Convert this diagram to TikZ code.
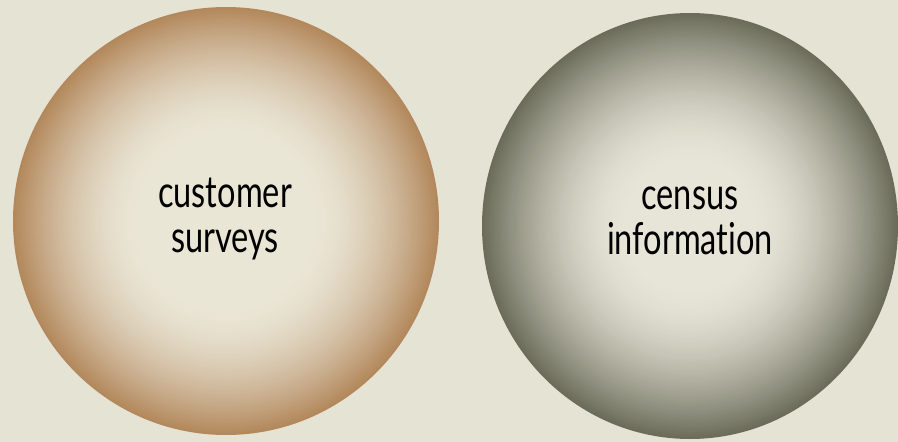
\documentclass[tikz,border=0pt]{standalone}
\usepackage{fontspec}
\setmainfont[FakeStretch=0.74, Ligatures={NoCommon}, RawFeature={-liga;-dlig}]{Lato}
\definecolor{bg}{HTML}{E5E3D3}
\definecolor{lout}{HTML}{B3885C}
\definecolor{lin}{HTML}{EAE6D6}
\definecolor{rout}{HTML}{6B6C5A}
\definecolor{rin}{HTML}{E7E5D7}
\tikzset{
  label text/.style={align=center, text=black, inner sep=0pt,
    font=\fontsize{44}{45}\selectfont}
}
\begin{document}
\begin{tikzpicture}[x=1pt,y=-1pt]
\fill[bg] (0,0) rectangle (898,442);
\useasboundingbox (0,0) rectangle (898,442);
\clip (0,0) rectangle (898,442);
% left sphere
\foreach \i in {0,...,90}{
  \pgfmathsetmacro\f{1-\i/90}
  \pgfmathsetmacro\w{100*(max(0,(\f-0.4)/0.6))^1.7}
  \colorlet{cc}{lout!\w!lin}
  \fill[cc] (226,221) ellipse [x radius={213*\f}, y radius={214*\f}];
}
% right sphere
\foreach \i in {0,...,90}{
  \pgfmathsetmacro\f{1-\i/90}
  \pgfmathsetmacro\w{100*(max(0,(\f-0.3)/0.7))^1.7}
  \colorlet{cc}{rout!\w!rin}
  \fill[cc] (690,226) ellipse [x radius={208*\f}, y radius={213*\f}];
}
\node[label text, anchor=base] (cust) at (225,252) {customer\\surveys};
\node[label text, anchor=base] (cens) at (690,254) {census\\information};
\end{tikzpicture}
\end{document}
